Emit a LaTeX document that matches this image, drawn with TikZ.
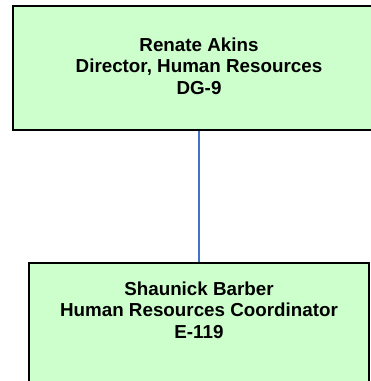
\documentclass[tikz,border=0pt]{standalone}
\usepackage{fontspec}
\setmainfont{Liberation Sans}
\definecolor{boxgreen}{HTML}{CCFFCC}
\definecolor{linkblue}{HTML}{4472C4}
\tikzset{
  orgbox/.style={draw=black, line width=2pt, fill=boxgreen, inner sep=0pt},
  orgtxt/.style={inner sep=0pt, anchor=base, font=\fontsize{18.8}{21.7}\selectfont\bfseries},
  conn/.style={draw=linkblue, line width=1.2pt}
}
\begin{document}
\begin{tikzpicture}[x=1pt,y=-1pt]
\useasboundingbox (0,0) rectangle (371,381);
\clip (0,0) rectangle (371,381);
% top box
\node[orgbox, minimum width=372pt, minimum height=124pt] (top) at (199,67.7) {};
\node[orgtxt] (t1) at (199,51) {Renate Akins};
\node[orgtxt] (t2) at (199,72.7) {Director, Human Resources};
\node[orgtxt] (t3) at (199,94.4) {DG-9};
% bottom box
\node[orgbox, minimum width=340.3pt, minimum height=200pt, anchor=north] (bot) at (199.2,261.7) {};
\node[orgtxt] (b1) at (199,295) {Shaunick Barber};
\node[orgtxt] (b2) at (199,316.7) {Human Resources Coordinator};
\node[orgtxt] (b3) at (199,338.4) {E-119};
% connector
\draw[conn] (top.south) -- (top.south |- bot.north);
\end{tikzpicture}
\end{document}
